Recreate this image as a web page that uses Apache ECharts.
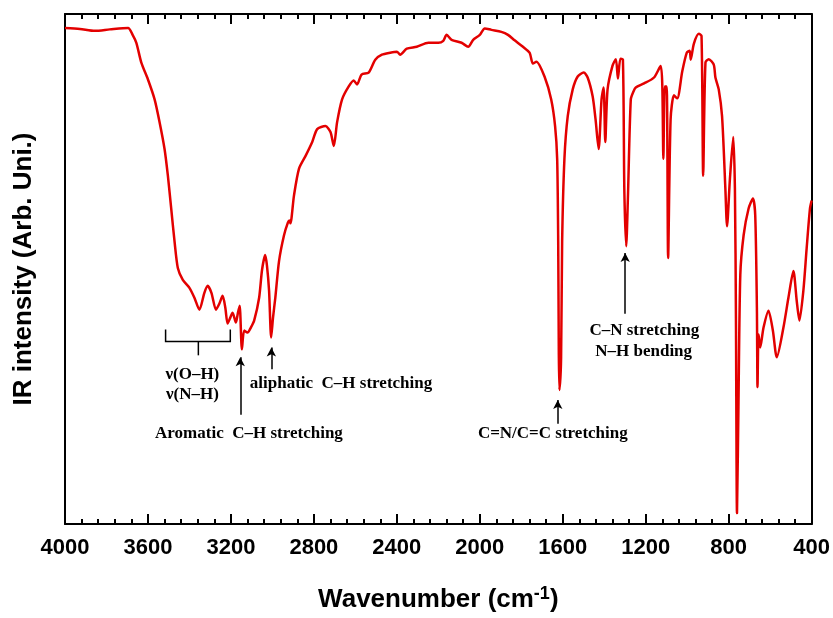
<!DOCTYPE html>
<html><head><meta charset="utf-8">
<script src="https://cdn.jsdelivr.net/npm/echarts@6/dist/echarts.min.js"></script>
<style>html,body{margin:0;padding:0;background:#fff}#c{width:833px;height:618px}</style>
</head><body><div id="c"></div>
<script>
// Wavenumber (cm-1)
const wavenumbers = [4000,3928,3856,3784,3696,3674,3656,3632,3600,3568,
3544,3520,3504,3488,3472,3456,3432,3400,3376,3352,
3328,3312,3294,3272,3256,3240,3227,3216,3203,3192,
3176,3167,3158,3147,3136,3120,3104,3088,3064,3050,
3035,3026,3016,3006,2997,2986,2968,2944,2925,2918,
2913,2896,2872,2840,2808,2784,2744,2720,2704,2688,
2664,2632,2608,2592,2570,2536,2504,2472,2432,2400,
2384,2352,2304,2248,2200,2176,2160,2136,2088,2056,
2032,2000,1976,1944,1896,1864,1832,1792,1760,1744,
1727,1688,1656,1637,1627,1622,1619,1616,1608,1603,
1592,1576,1552,1528,1499,1480,1456,1442,1427,1413,
1403,1395,1384,1360,1344,1334,1322,1310,1303,1294,
1286,1272,1259,1248,1208,1160,1128,1120,1115,1108,
1099,1092,1080,1064,1048,1024,1002,988,983,968,
944,931,923,912,896,872,864,848,832,816,
808,794,778,770,765,760,753,744,728,704,
683,672,664,661,656,648,632,608,587,568,
536,512,488,472,459,440,424,408,400];
// IR intensity (arbitrary units)
const intensity = [500,499,497,498.5,500,493,485,465,448,428,
405,378,351,318,285,258,246,238,228,216,
233,240,233,216,222,230,218,202,208,213,
203,212,220,176,195,193,198,205,228,256,
271,260,235,188,208,228,265,291,304,306,
303,331,358,371,385,398,401,395,381,405,
428,441,447,443,453,455,468,473,475,476,
473,479,481,485,485,487,493,488,485,481,
488,493,499.5,498,496,493,487.5,481,475,464,
466,451,428,401,368,285,171,135,168,285,
368,411,438,451,455,450,431,408,378,428,
440,385,438,462,468.5,449,469,468,335,280,
328,428,436,440,444,450,461.5,441,368,441,
441,268,408,432,429,456,475,477,468,484,
494,492,351,465,468.5,463,450,438,411,338,
300,348,390,338,208,11,118,251,291,318,
328,311,218,138,191,178,198,215,195,168,
198,228,255,225,205,235,278,318,326];

const xMin = 400, xMax = 4000, xStep = 400;
const yMin = 0, yMax = 514;

// Annotations (data coordinates: wavenumber, intensity)
const noteTexts = [
  {text: 'ν(O–H)', w: 3386, v: 151, align: 'center'},
  {text: 'ν(N–H)', w: 3386, v: 130, align: 'center'},
  {text: 'Aromatic  C–H stretching', w: 3113, v: 91, align: 'center'},
  {text: 'aliphatic  C–H stretching', w: 3109, v: 141, align: 'left'},
  {text: 'C=N/C=C stretching', w: 1648, v: 91, align: 'center'},
  {text: 'C–N stretching', w: 1207, v: 195, align: 'center'},
  {text: 'N–H bending', w: 1210, v: 174, align: 'center'}
];
const arrowW = [3155, 3005, 1624, 1299];
const arrowFrom = [110, 156, 101, 212];
const arrowTo = [168, 178, 125, 273];
const bracketW = [3515, 3357, 3203];
const bracketV = [196, 184, 170];

const chart = echarts.init(document.getElementById('c'), null, {renderer: 'canvas'});
const axisFont = 'Liberation Sans';
const blackLine = {color: '#000', width: 2};
const tickCommon = {
  axisLine: {show: true, onZero: false, lineStyle: blackLine},
  axisTick: {show: true, inside: true, length: 10, lineStyle: blackLine},
  minorTick: {show: true, splitNumber: 5, length: 5, lineStyle: blackLine},
  splitLine: {show: false}
};
const option = {
  animation: false,
  backgroundColor: '#fff',
  grid: {left: 65, right: 18, top: 14, bottom: 90},
  xAxis: [
    Object.assign({
      type: 'value', inverse: true, min: xMin, max: xMax, interval: xStep, position: 'bottom',
      axisLabel: {margin: 13, color: '#000', fontSize: 22, fontWeight: 'bold', fontFamily: axisFont,
        formatter: v => String(v)},
      name: '{a|Wavenumber (cm}{s|-1}{a|)}', nameLocation: 'middle', nameGap: 61,
      nameTextStyle: {
        rich: {
          a: {fontSize: 26, fontWeight: 'bold', fontFamily: axisFont, color: '#000', lineHeight: 30},
          s: {fontSize: 18, fontWeight: 'bold', fontFamily: axisFont, color: '#000', lineHeight: 14, verticalAlign: 'top'}
        }
      }
    }, tickCommon),
    Object.assign({
      type: 'value', inverse: true, min: xMin, max: xMax, interval: xStep, position: 'top',
      axisLabel: {show: false}
    }, tickCommon)
  ],
  yAxis: [
    {type: 'value', min: yMin, max: yMax, position: 'left',
     axisLine: {show: true, onZero: false, lineStyle: blackLine}, axisTick: {show: false},
     axisLabel: {show: false}, splitLine: {show: false},
     name: 'IR intensity (Arb. Uni.)', nameLocation: 'middle', nameRotate: 90, nameGap: 28,
     nameTextStyle: {fontSize: 26, fontWeight: 'bold', fontFamily: axisFont, color: '#000'}},
    {type: 'value', min: yMin, max: yMax, position: 'right',
     axisLine: {show: true, onZero: false, lineStyle: blackLine}, axisTick: {show: false},
     axisLabel: {show: false}, splitLine: {show: false}}
  ],
  series: [{
    type: 'line',
    data: wavenumbers.map((w, i) => [w, intensity[i]]),
    showSymbol: false,
    silent: true,
    smooth: 0.25,
    lineStyle: {color: '#e30000', width: 2.5, join: 'round'},
    itemStyle: {color: '#e30000'},
    markLine: {
      silent: true,
      symbol: ['none', 'arrow'],
      symbolSize: [7, 9],
      label: {show: false},
      lineStyle: {color: '#000', width: 1.5, type: 'solid'},
      itemStyle: {color: '#000'},
      emphasis: {disabled: true},
      data: arrowW.map((w, i) => [{coord: [w, arrowFrom[i]]}, {coord: [w, arrowTo[i]]}])
    }
  }]
};
chart.setOption(option);

const px = (w, v) => chart.convertToPixel({xAxisIndex: 0, yAxisIndex: 0}, [w, v]);
const graphics = noteTexts.map(n => {
  const p = px(n.w, n.v);
  return {type: 'text', x: p[0], y: p[1], silent: true,
    style: {text: n.text, fill: '#000', align: n.align, verticalAlign: 'middle',
      font: 'bold 17px "Liberation Serif", "Times New Roman", serif'}};
});
const bl = px(bracketW[0], bracketV[0]), blb = px(bracketW[0], bracketV[1]);
const bm = px(bracketW[1], bracketV[1]), bmt = px(bracketW[1], bracketV[2]);
const br = px(bracketW[2], bracketV[0]), brb = px(bracketW[2], bracketV[1]);
graphics.push({type: 'polyline', silent: true,
  shape: {points: [bl, blb, brb, br]}, style: {stroke: '#000', lineWidth: 1.5, fill: null}});
graphics.push({type: 'line', silent: true,
  shape: {x1: bm[0], y1: bm[1], x2: bmt[0], y2: bmt[1]}, style: {stroke: '#000', lineWidth: 1.5}});
chart.setOption({graphic: graphics});
</script></body></html>
